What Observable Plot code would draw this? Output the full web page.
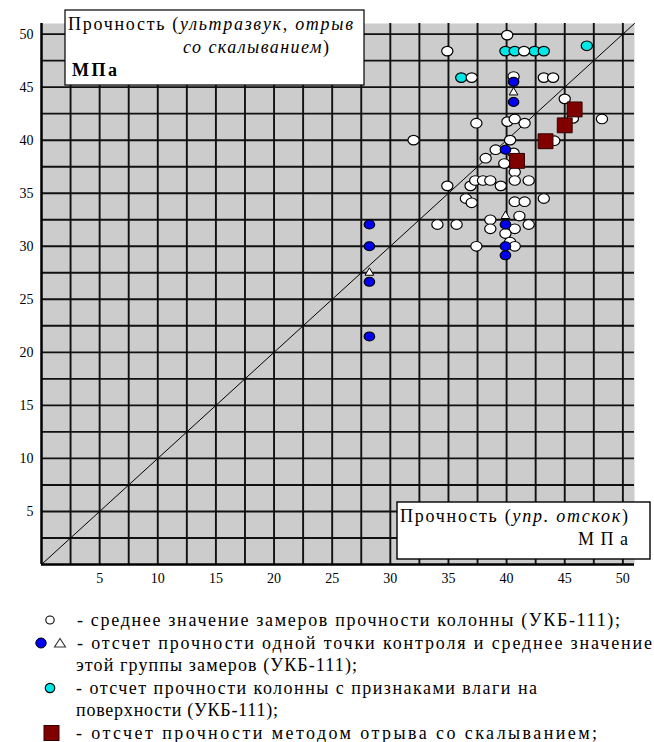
<!DOCTYPE html>
<html><head><meta charset="utf-8">
<script src="https://cdn.jsdelivr.net/npm/d3@7"></script>
<script src="https://cdn.jsdelivr.net/npm/@observablehq/plot@0.6"></script>
<style>
body{margin:0;background:#fff;}
#chart{width:654px;}
svg{display:block;}
</style></head><body><div id="chart"></div>
<script>
// ---- data ----
const axisMax = 51;
const tickValues = [5, 10, 15, 20, 25, 30, 35, 40, 45, 50];
const gridValues = [2.5, 5, 7.5, 10, 12.5, 15, 17.5, 20, 22.5, 25, 27.5, 30, 32.5, 35, 37.5, 40, 42.5, 45, 47.5, 50];
const diagonal = [0, axisMax];

// white: mean of column strength measurements (УКБ-111)
const meanPoints = [
  [40.05, 49.9], [34.9, 48.4], [41.5, 48.4], [37.0, 45.9], [40.6, 46.0], [43.2, 45.9], [44.0, 45.9],
  [45.0, 43.9], [45.7, 42.05], [48.2, 42.0], [44.1, 39.95], [37.4, 41.6], [40.07, 41.75], [40.7, 42.0],
  [41.55, 41.6], [32.0, 40.0], [40.3, 40.0], [39.06, 39.1], [38.2, 38.3], [39.8, 37.8], [40.6, 38.8],
  [40.7, 37.0], [34.9, 35.7], [36.9, 35.7], [37.3, 36.2], [37.97, 36.2], [38.6, 36.2], [39.5, 35.7],
  [40.7, 36.2], [41.9, 36.2], [36.5, 34.5], [37.0, 34.1], [40.7, 34.2], [41.55, 34.2], [43.2, 34.5],
  [34.05, 32.05], [35.7, 32.05], [38.6, 32.5], [38.6, 31.65], [41.1, 32.85], [40.7, 31.65], [41.9, 32.05],
  [39.9, 31.2], [40.3, 30.4], [40.7, 30.0], [37.4, 30.0]
];
// cyan: column with signs of surface moisture
const moistPoints = [[36.1, 45.9], [39.9, 48.4], [40.7, 48.4], [42.4, 48.4], [43.2, 48.4], [46.9, 48.9]];
// blue: single control point readings
const singlePoints = [
  [40.6, 45.5], [40.6, 43.6], [39.9, 39.1], [39.9, 32.05], [39.9, 30.0], [39.9, 29.15],
  [28.2, 32.05], [28.2, 30.0], [28.2, 26.65], [28.2, 21.5]
];
// triangles: mean of the group of measurements
const groupMeanPoints = [[40.6, 44.5], [39.9, 32.85], [28.2, 27.5]];
// squares: pull-off with chipping
const pullOffPoints = [[45.85, 42.9], [45.0, 41.4], [43.35, 39.9], [40.9, 38.05]];

const legendRows = [
  "- среднее значение замеров прочности колонны (УКБ-111);",
  "- отсчет прочности одной точки контроля и среднее значение",
  "этой группы замеров (УКБ-111);",
  "- отсчет прочности колонны с признаками влаги на",
  "поверхности (УКБ-111);",
  "- отсчет прочности методом отрыва со скалыванием;"
];

// ---- ellipse symbol (slightly flattened circles as in the original) ----
const ellipse = {
  draw(ctx, size) {
    const r = Math.sqrt(size / Math.PI), rx = r * 1.06, ry = r * 0.9, k = 0.5523;
    ctx.moveTo(rx, 0);
    ctx.bezierCurveTo(rx, k * ry, k * rx, ry, 0, ry);
    ctx.bezierCurveTo(-k * rx, ry, -rx, k * ry, -rx, 0);
    ctx.bezierCurveTo(-rx, -k * ry, -k * rx, -ry, 0, -ry);
    ctx.bezierCurveTo(k * rx, -ry, rx, -k * ry, rx, 0);
    ctx.closePath();
  }
};

const FONT = "'Liberation Serif', 'Times New Roman', serif";
const px = d => d[0], py = d => d[1];

const plot = Plot.plot({
  width: 654, height: 590,
  marginLeft: 41, marginRight: 20, marginTop: 23, marginBottom: 26,
  x: {domain: [0, axisMax]},
  y: {domain: [0, axisMax]},
  style: {fontFamily: FONT, fontSize: "14px", color: "#000", background: "transparent"},
  marks: [
    Plot.frame({fill: "#cccccc", stroke: "none"}),
    Plot.ruleX(gridValues, {stroke: "#111", strokeWidth: 1.9}),
    Plot.ruleY(gridValues, {stroke: "#111", strokeWidth: 1.9}),
    Plot.ruleX([0], {stroke: "#000", strokeWidth: 2.5}),
    Plot.ruleY([0], {stroke: "#000", strokeWidth: 2.5}),
    Plot.line(diagonal, {x: d => d, y: d => d, stroke: "#000", strokeWidth: 1}),
    Plot.axisX(tickValues, {tickSize: 0, tickPadding: 9, fontSize: 14}),
    Plot.axisY(tickValues, {tickSize: 0, tickPadding: 8, fontSize: 14}),
    Plot.dot(moistPoints, {x: px, y: py, r: 5.3, symbol: ellipse, fill: "#00e8e8", stroke: "#000", strokeWidth: 1.2}),
    Plot.dot(meanPoints, {x: px, y: py, r: 5.3, symbol: ellipse, fill: "#fff", stroke: "#000", strokeWidth: 1.2}),
    Plot.dot(singlePoints, {x: px, y: py, r: 5, symbol: ellipse, fill: "#0000f0", stroke: "#000", strokeWidth: 1.1}),
    Plot.dot(groupMeanPoints, {x: px, y: py, r: 3.2, symbol: "triangle", fill: "#fff", stroke: "#000", strokeWidth: 1}),
    Plot.dot(pullOffPoints, {x: px, y: py, r: 8.4, symbol: "square", fill: "#800000", stroke: "#300000", strokeWidth: 1})
  ]
});

// ---- axis title boxes ----
const svg = d3.select(plot);
function addText(parent, x, y, parts, size, len) {
  const t = parent.append("text").attr("x", x).attr("y", y)
    .attr("font-size", size).attr("font-family", FONT).attr("fill", "#000")
    .attr("text-anchor", "start");
  parts.forEach(([s, st]) => {
    const ts = t.append("tspan").text(s);
    if (st === "i") ts.attr("font-style", "italic");
    if (st === "b") ts.attr("font-weight", "bold");
  });
  if (len) t.attr("textLength", len).attr("lengthAdjust", "spacing");
  return t;
}
const boxes = svg.append("g");
boxes.append("rect").attr("x", 65).attr("y", 10).attr("width", 299).attr("height", 75)
  .attr("fill", "#fff").attr("stroke", "#000").attr("stroke-width", 1.2);
addText(boxes, 68, 30, [["Прочность (", ""], ["ультразвук", "i"], [", ", ""], ["отрыв", "i"]], 18, 285);
addText(boxes, 183, 53, [["со скалыванием", "i"], [")", ""]], 18, 146);
addText(boxes, 72, 76, [["МПа", "b"]], 18, 45);

boxes.append("rect").attr("x", 397).attr("y", 502).attr("width", 253).attr("height", 57)
  .attr("fill", "#fff").attr("stroke", "#000").attr("stroke-width", 1.4);
addText(boxes, 400, 522, [["Прочность (", ""], ["упр. отскок", "i"], [")", ""]], 18, 228);
addText(boxes, 578, 545, [["МПа", ""]], 18, 50);

document.getElementById("chart").appendChild(plot);

// ---- legend ----
const leg = d3.create("svg").attr("width", 654).attr("height", 152);
const off = 590;
const rowY = [620, 643, 665.5, 688, 710.5, 733].map(v => v - off);
const rowX = [77, 77, 76, 76, 76, 76];
const rowLen = [543, 575, 281, 461, 202, 521];
legendRows.forEach((s, i) => {
  addText(leg, rowX[i], rowY[i] + 5.5, [[s, ""]], 18, rowLen[i]);
});
leg.append("ellipse").attr("cx", 50).attr("cy", rowY[0]).attr("rx", 4.2).attr("ry", 4)
  .attr("fill", "#fff").attr("stroke", "#000").attr("stroke-width", 1.1);
leg.append("ellipse").attr("cx", 41).attr("cy", rowY[1]).attr("rx", 5.2).attr("ry", 5)
  .attr("fill", "#0000f0").attr("stroke", "#000").attr("stroke-width", 1);
leg.append("path").attr("d", `M60,${rowY[1] - 4.5}L65.5,${rowY[1] + 4}L54.5,${rowY[1] + 4}Z`)
  .attr("fill", "#fff").attr("stroke", "#333").attr("stroke-width", 1.1);
leg.append("ellipse").attr("cx", 50).attr("cy", rowY[3]).attr("rx", 4.8).attr("ry", 4.6)
  .attr("fill", "#00e8e8").attr("stroke", "#000").attr("stroke-width", 1.1);
leg.append("rect").attr("x", 44).attr("y", rowY[5] - 7.5).attr("width", 15).attr("height", 15)
  .attr("fill", "#800000").attr("stroke", "#300000").attr("stroke-width", 1);
document.getElementById("chart").appendChild(leg.node());
</script>
</body></html>
